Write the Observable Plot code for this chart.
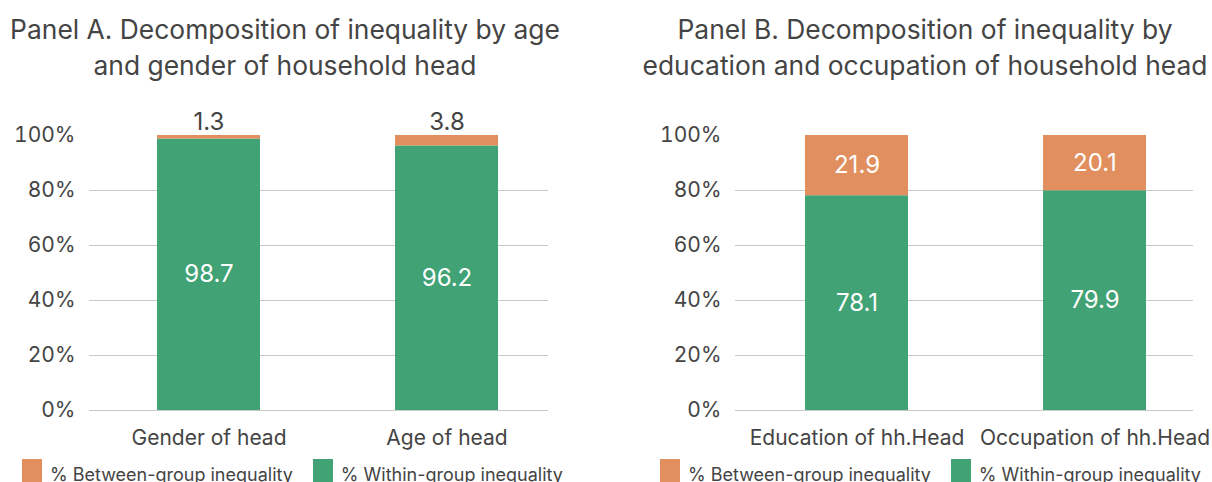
<!DOCTYPE html>
<html>
<head>
<meta charset="utf-8">
<script src="https://cdn.jsdelivr.net/npm/d3@7"></script>
<script src="https://cdn.jsdelivr.net/npm/@observablehq/plot@0.6"></script>
<style>
  html, body { margin: 0; padding: 0; background: #fff; }
  body { width: 1212px; height: 482px; overflow: hidden; font-family: Inter, "Noto Sans", sans-serif; color: #444; }
  .row { display: flex; }
  .panel { width: 606px; position: relative; }
  .title { height: 95px; box-sizing: border-box; padding-top: 11px; font-size: 26.4px; line-height: 36px; text-align: center; white-space: nowrap; color: #444; }
  .panel svg { display: block; }
  .legend { display: flex; align-items: flex-start; font-size: 18px; line-height: 22px; color: #444; white-space: nowrap; padding-top: 2px; }
  .sw { display: inline-block; width: 20px; height: 24px; margin-right: 8px; }
  .item { display: flex; align-items: flex-start; margin-right: 20px; }
  .item span.lab { padding-top: 5px; }
</style>
</head>
<body>
<div class="row" id="root"></div>
<script>
// ---- data ----
const titleA = ["Panel A. Decomposition of inequality by age", "and gender of household head"];
const titleB = ["Panel B. Decomposition of inequality by", "education and occupation of household head"];
const categoriesA = ["Gender of head", "Age of head"];
const betweenA = [1.3, 3.8];
const withinA = [98.7, 96.2];
const categoriesB = ["Education of hh.Head", "Occupation of hh.Head"];
const betweenB = [21.9, 20.1];
const withinB = [78.1, 79.9];
const yTicks = [0, 20, 40, 60, 80, 100];
const seriesKeys = ["between", "within"];
const seriesLabels = ["% Between-group inequality", "% Within-group inequality"];
const seriesColors = ["#E18F5E", "#40A275"];

const FONT = "Inter, 'Noto Sans', sans-serif";

function makePanel(title, cats, between, within, cfg) {
  const panel = document.createElement("div");
  panel.className = "panel";
  const t = document.createElement("div");
  t.className = "title";
  t.style.paddingLeft = cfg.titlePadL + "px";
  t.style.paddingRight = cfg.titlePadR + "px";
  t.innerHTML = title.map(s => `<div>${s}</div>`).join("");
  panel.appendChild(t);

  const rows = [];
  cats.forEach((c, i) => {
    rows.push({cat: c, series: "within", value: within[i], lo: 0, hi: within[i]});
    rows.push({cat: c, series: "between", value: between[i], lo: within[i], hi: within[i] + between[i]});
  });
  const small = rows.filter(d => d.series === "between" && d.value < 10);
  const inside = rows.filter(d => !(d.series === "between" && d.value < 10));

  const chart = Plot.plot({
    width: 606,
    height: 362,
    marginLeft: cfg.marginLeft,
    marginRight: cfg.marginRight,
    marginTop: 40,
    marginBottom: 47,
    style: {fontFamily: FONT, fontSize: "21px", color: "#444", background: "transparent"},
    x: {type: "band", domain: cats, paddingInner: 0.569, paddingOuter: 0.245, align: cfg.align, label: null, tickSize: 0, tickPadding: 20},
    y: {domain: [0, 100], ticks: yTicks, tickFormat: d => d + "%", tickSize: 0, tickPadding: 14, label: null},
    color: {domain: seriesKeys, range: seriesColors},
    marks: [
      Plot.gridY(yTicks.filter(v => v < 100), {stroke: "#c8c8c8", strokeOpacity: 1, strokeWidth: 1}),
      Plot.rectY(rows, {x: "cat", y1: "lo", y2: "hi", fill: "series"}),
      Plot.text(inside, {x: "cat", y: d => (d.lo + d.hi) / 2, text: d => d.value.toFixed(1), fill: "white", fontSize: 24}),
      Plot.text(small, {x: "cat", y: "hi", text: d => d.value.toFixed(1), fill: "#444", fontSize: 24, dy: -13})
    ]
  });
  panel.appendChild(chart);

  const lg = document.createElement("div");
  lg.className = "legend";
  lg.style.paddingLeft = cfg.legendLeft + "px";
  lg.innerHTML = seriesKeys.map((k, i) =>
    `<span class="item"><span class="sw" style="background:${seriesColors[i]}"></span><span class="lab">${seriesLabels[i]}</span></span>`).join("");
  panel.appendChild(lg);
  return panel;
}

const root = document.getElementById("root");
root.appendChild(makePanel(titleA, categoriesA, betweenA, withinA,
  {marginLeft: 89, marginRight: 58, align: 0.573, titlePadL: 0, titlePadR: 36, legendLeft: 22}));
root.appendChild(makePanel(titleB, categoriesB, betweenB, withinB,
  {marginLeft: 129, marginRight: 19, align: 0.598, titlePadL: 32, titlePadR: 0, legendLeft: 54}));
</script>
</body>
</html>
